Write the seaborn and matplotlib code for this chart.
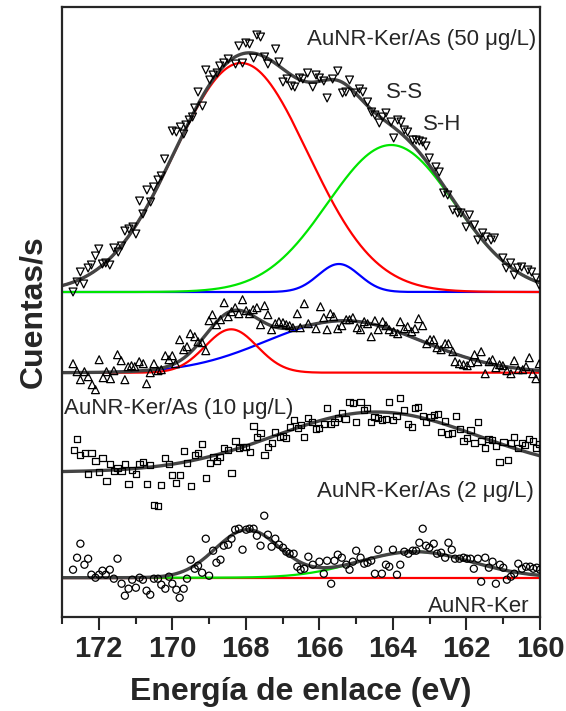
import numpy as np
import pandas as pd
import matplotlib
matplotlib.use("Agg")
import matplotlib.pyplot as plt
from matplotlib.ticker import MultipleLocator
import seaborn as sns

# --- scatter data (binding energy in eV, counts above own baseline) ---
e_50 = [172.70, 172.59, 172.50, 172.41, 172.29, 172.20, 172.09, 172.00, 171.90, 171.81,
        171.70, 171.59, 171.47, 171.38, 171.29, 171.18, 171.07, 170.99, 170.89, 170.80,
        170.69, 170.59, 170.51, 170.39, 170.30, 170.21, 170.00, 169.89, 169.78, 169.69,
        169.63, 169.54, 169.45, 169.39, 169.30, 169.18, 169.09, 168.98, 168.89, 168.78,
        168.71, 168.60, 168.48, 168.28, 168.19, 168.09, 168.00, 167.90, 167.79, 167.70,
        167.60, 167.49, 167.40, 167.19, 167.10, 166.99, 166.88, 166.76, 166.67, 166.54,
        166.45, 166.32, 166.18, 166.09, 166.00, 165.88, 165.79, 165.64, 165.50, 165.37,
        165.28, 165.18, 165.05, 164.91, 164.82, 164.69, 164.58, 164.49, 164.37, 164.28,
        164.19, 164.05, 163.98, 163.87, 163.78, 163.69, 163.60, 163.46, 163.37, 163.28,
        163.19, 163.10, 163.01, 162.83, 162.74, 162.62, 162.51, 162.37, 162.24, 162.15,
        162.01, 161.92, 161.78, 161.69, 161.56, 161.47, 161.33, 161.24, 161.01, 160.92,
        160.80, 160.70, 160.61, 160.50, 160.33, 160.23, 160.11, 160.02]
i_50 = [0, 10, 20, 8, 24, 27, 36, 43, 28, 29,
        27, 44, 40, 46, 61, 63, 65, 58, 91, 78,
        102, 90, 105, 112, 116, 133, 161, 160, 165, 158,
        167, 172, 175, 184, 200, 186, 222, 212, 217, 219,
        226, 229, 233, 228, 246, 229, 249, 248, 234, 257,
        255, 235, 228, 243, 230, 210, 213, 206, 205, 214,
        213, 219, 205, 217, 214, 211, 194, 213, 221, 199,
        200, 212, 199, 203, 200, 190, 180, 177, 169, 175,
        179, 170, 154, 172, 170, 162, 160, 152, 152, 151,
        150, 146, 134, 125, 120, 99, 97, 82, 79, 79,
        65, 77, 67, 52, 59, 55, 52, 54, 34, 24,
        29, 17, 24, 25, 22, 20, 14, 7]

e_10 = [172.70, 172.59, 172.50, 172.39, 172.29, 172.18, 172.09, 171.99, 171.88, 171.79,
        171.68, 171.59, 171.49, 171.39, 171.29, 171.20, 171.11, 171.02, 170.90, 170.79,
        170.70, 170.60, 170.50, 170.39, 170.30, 170.19, 170.09, 170.00, 169.91, 169.80,
        169.69, 169.60, 169.51, 169.39, 169.30, 169.19, 169.09, 169.00, 168.91, 168.80,
        168.69, 168.59, 168.48, 168.39, 168.29, 168.19, 168.09, 167.99, 167.90, 167.80,
        167.70, 167.60, 167.49, 167.40, 167.30, 167.20, 167.10, 166.99, 166.90, 166.81,
        166.72, 166.60, 166.52,
        166.41, 166.30, 166.09, 165.97, 165.88, 165.79, 165.70, 165.61, 165.50, 165.39,
        165.27, 165.18, 165.09, 164.97, 164.88, 164.78, 164.69, 164.59, 164.49, 164.40,
        164.28, 164.19, 164.10, 163.98, 163.87, 163.80, 163.69, 163.60, 163.49, 163.40,
        163.30, 163.19, 163.08, 162.99, 162.89, 162.80, 162.69, 162.58, 162.49, 162.37,
        162.31, 162.19, 162.08, 161.98, 161.89, 161.78, 161.69, 161.60, 161.49, 161.38,
        161.29, 161.20, 161.10, 161.01, 160.90, 160.79, 160.70, 160.59, 160.47, 160.38,
        160.29, 160.20, 160.11, 160.02]
i_10 = [9, 1, -7, 1, -4, -12, -17, 13, -5, 1,
        -6, 2, 18, 12, -7, 6, 7, 6, 11, 9,
        -11, 0, 9, 2, 3, 17, 13, 17, 9, 33,
        23, 26, 39, 36, 31, 30, 22, 52, 58, 48,
        53, 70, 56, 61, 65, 59, 73, 62, 59, 63,
        65, 48, 67, 58, 43, 49, 51, 50, 48, 47,
        45, 59, 45,
        69, 49, 44, 66, 55, 43, 59, 56, 44, 47,
        53, 53, 55, 45, 43, 51, 49, 36, 52, 43,
        51, 47, 43, 41, 39, 51, 44, 46, 41, 44,
        54, 47, 29, 33, 33, 25, 23, 29, 29, 21,
        11, 9, 8, 7, 10, 18, 11, 21, -1, 11,
        13, 5, 8, 7, 2, -1, 12, 3, 3, 6,
        15, -1, -6, 9]

e_2 = [172.68, 172.59, 172.50, 172.38, 172.29, 172.20, 172.09, 171.99, 171.90, 171.79,
       171.70, 171.59, 171.49, 171.38, 171.29, 171.19, 171.09, 170.99, 170.89, 170.80,
       170.69, 170.60, 170.50, 170.39, 170.30, 170.19, 170.09, 170.00, 169.89, 169.80,
       169.69, 169.59, 169.49, 169.39, 169.30, 169.19, 169.09, 168.98, 168.89, 168.78,
       168.71, 168.59, 168.48, 168.39, 168.28, 168.19, 168.08, 167.99, 167.89, 167.79,
       167.70, 167.60, 167.49, 167.40, 167.29, 167.20, 167.08, 166.99, 166.90, 166.79,
       166.70, 166.58, 166.49,
       166.41, 166.32, 166.21, 166.09, 166.00, 165.88, 165.79, 165.68, 165.59, 165.50,
       165.39, 165.29, 165.18, 165.09, 165.00, 164.88, 164.79, 164.70, 164.59, 164.50,
       164.40, 164.30, 164.19, 164.10, 164.00, 163.90, 163.80, 163.69, 163.60, 163.49,
       163.40, 163.31, 163.19, 163.09, 162.98, 162.89, 162.78, 162.69, 162.58, 162.51,
       162.40, 162.29, 162.18, 162.08, 161.99, 161.89, 161.78, 161.69, 161.59, 161.49,
       161.40, 161.30, 161.19, 161.10, 160.99, 160.88, 160.79, 160.70, 160.59, 160.50,
       160.41, 160.29, 160.20, 160.11, 160.02]
i_2 = [22, 33, 17, 19, -2, 19, 11, 0, 14, -9,
       8, 1, 4, 1, 8, -12, 2, -2, 8, 10,
       -12, 7, -33, -34, -13, 14, 8, -3, -11, -3,
       21, 9, -14, 17, 19, 28, -6, 9, 15, 11,
       15, 24, 22, -1, 31, 24, 25, 25, 20, 46,
       35, 39, 17, 25, 29, 40, 35, 36, 34, 45,
       52, 44, 47,
       35, 54, 50, 43, 44, 48, 64, 48, 50, 54,
       59, 53, 70, 69, 50, 70, 62, 64, 50, 55,
       54, 52, 53, 70, 52, 56, 74, 62, 48, 45,
       64, 65, 56, 50, 55, 57, 58, 40, 51, 38,
       39, 56, 43, 31, 34, 42, 29, 50, 31, 24,
       33, 32, 26, 10, 30, 12, 29, 35, 24, 29,
       27, 33, 31, 24, 28]

e_ker = [172.70, 172.59, 172.50, 172.39, 172.29, 172.20, 172.09, 171.99, 171.90, 171.81,
         171.70, 171.59, 171.49, 171.38, 171.29, 171.19, 171.09, 170.99, 170.89, 170.80,
         170.70, 170.60, 170.50, 170.39, 170.30, 170.19, 170.09, 170.00, 169.89, 169.80,
         169.69, 169.60, 169.50, 169.39, 169.30, 169.19, 169.09, 169.00, 168.89, 168.80,
         168.69, 168.60, 168.48, 168.39, 168.29, 168.19, 168.09, 167.99, 167.90, 167.79,
         167.70, 167.60, 167.50, 167.40, 167.30, 167.20, 167.10, 166.99, 166.90, 166.81,
         166.70, 166.60, 166.51,
         166.41, 166.30, 166.18, 166.00, 165.88, 165.79, 165.68, 165.59, 165.50, 165.39,
         165.27, 165.18, 165.09, 165.00, 164.88, 164.78, 164.69, 164.59, 164.49, 164.40,
         164.30, 164.19, 164.10, 164.00, 163.89, 163.80, 163.69, 163.58, 163.46, 163.37,
         163.28, 163.19, 163.10, 163.01, 162.89, 162.80, 162.69, 162.58, 162.49, 162.40,
         162.31, 162.19, 162.08, 161.99, 161.89, 161.80, 161.69, 161.60, 161.49, 161.39,
         161.29, 161.20, 161.09, 161.00, 160.90, 160.79, 160.70, 160.59, 160.49, 160.38,
         160.27, 160.18, 160.09, 160.00]
i_ker = [8, 20, 34, 13, 19, 3, 0, 3, 7, 3,
         8, -1, 19, -6, -18, -11, -2, -10, 0, -2,
         -13, -17, -1, -1, -7, -11, 1, -6, -12, -20,
         -11, -1, 18, 9, 12, 5, 39, 2, 27, 15,
         18, 32, 33, 39, 48, 49, 28, 48, 49, 49,
         42, 32, 62, 43, 31, 39, 33, 30, 26, 24,
         24, 11, 8,
         9, 21, 13, 16, 4, 17, -6, 17, 23, 20,
         13, 8, 16, 27, 20, 14, 15, 17, 4, 28,
         4, 13, 11, 28, 3, 13, 26, 24, 27, 27,
         35, 49, 32, 30, 34, 24, 25, 20, 35, 28,
         19, 19, 20, 19, 19, 9, 19, -4, 20, 10,
         16, -6, 13, 10, -2, 1, 4, 14, 9, 11,
         11, 9, 10, 8]

# --- fitted peak components (centre eV, sigma eV, height) ---
p50_center = [168.13, 165.47, 164.05]
p50_sigma = [1.82, 0.56, 1.72]
p50_height = [229, 28, 147]

p10_center = [168.40, 165.33]
p10_sigma = [0.71, 2.12]
p10_height = [43.4, 52]

p2_center = [164.45]
p2_sigma = [2.75]
p2_height = [60]

pker_center = [167.96, 163.40]
pker_sigma = [0.87, 1.55]
pker_height = [47.7, 26]

# stacking offsets of the four spectra
off_50, off_10, off_2, off_ker = 325, 244.3, 145, 39.3

RED, GREEN, BLUE, FIT = "#ff0000", "#00e600", "#0000ff", "#444444"

sns.set_style("ticks")
plt.rcParams["font.family"] = ["Liberation Sans", "DejaVu Sans"]

fig = plt.figure(figsize=(5.66, 7.11), dpi=100)
ax = fig.add_axes([62 / 566, 94 / 711, 478 / 566, 610 / 711])

xs = np.linspace(160, 173, 800)


def peak(c, s, h):
    return h * np.exp(-0.5 * ((xs - c) / s) ** 2)


def line(y, off, color, lw):
    sns.lineplot(x=xs, y=y + off, color=color, lw=lw, ax=ax)


def points(e, i, off, marker, size):
    df = pd.DataFrame({"E": e, "I": np.array(i) + off})
    sns.scatterplot(data=df, x="E", y="I", marker=marker, s=size,
                    facecolor="none", edgecolor="black", linewidth=0.9, ax=ax, zorder=3)


# 50 ug/L
c50 = [peak(c, s, h) for c, s, h in zip(p50_center, p50_sigma, p50_height)]
line(c50[1], off_50, BLUE, 1.6)
line(c50[0], off_50, RED, 1.6)
line(c50[2], off_50, GREEN, 1.6)
line(sum(c50), off_50, FIT, 2.4)
points(e_50, i_50, off_50, "v", 32)

# 10 ug/L
c10 = [peak(c, s, h) for c, s, h in zip(p10_center, p10_sigma, p10_height)]
line(c10[1], off_10, BLUE, 1.6)
line(c10[0], off_10, RED, 1.6)
line(sum(c10), off_10, FIT, 2.4)
points(e_10, i_10, off_10, "^", 32)

# 2 ug/L
c2 = [peak(c, s, h) for c, s, h in zip(p2_center, p2_sigma, p2_height)]
line(sum(c2), off_2, FIT, 2.4)
points(e_2, i_2, off_2, "s", 20)

# AuNR-Ker
cker = [peak(c, s, h) for c, s, h in zip(pker_center, pker_sigma, pker_height)]
line(np.zeros_like(xs), off_ker, RED, 1.6)
line(cker[1], off_ker, GREEN, 1.6)
line(sum(cker), off_ker, FIT, 2.4)
points(e_ker, i_ker, off_ker, "o", 26)

ax.set_xlim(173, 160)
ax.set_ylim(0, 610)
ax.set_yticks([])
ax.xaxis.set_major_locator(MultipleLocator(2))
ax.xaxis.set_minor_locator(MultipleLocator(1))
ax.tick_params(axis="x", which="major", direction="out", length=9, width=1.5,
               labelsize=21, pad=4)
ax.tick_params(axis="x", which="minor", direction="out", length=5, width=1.5)
for lab in ax.get_xticklabels():
    lab.set_fontweight("bold")
for sp in ax.spines.values():
    sp.set_linewidth(1.6)
    sp.set_visible(True)

ax.set_xlabel("Energía de enlace (eV)", fontsize=23, fontweight="bold", labelpad=10)
ax.set_ylabel("Cuentas/s", fontsize=23, fontweight="bold", labelpad=10)

ax.text(160.11, 572, "AuNR-Ker/As (50 μg/L)", fontsize=16, ha="right", va="baseline")
ax.text(164.19, 519, "S-S", fontsize=16, ha="left", va="baseline")
ax.text(163.18, 487, "S-H", fontsize=16, ha="left", va="baseline")
ax.text(172.94, 203, "AuNR-Ker/As (10 μg/L)", fontsize=16, ha="left", va="baseline")
ax.text(160.16, 120, "AuNR-Ker/As (2 μg/L)", fontsize=16, ha="right", va="baseline")
ax.text(160.30, 5.5, "AuNR-Ker", fontsize=16, ha="right", va="baseline")

fig.savefig("out.png", dpi=100)
